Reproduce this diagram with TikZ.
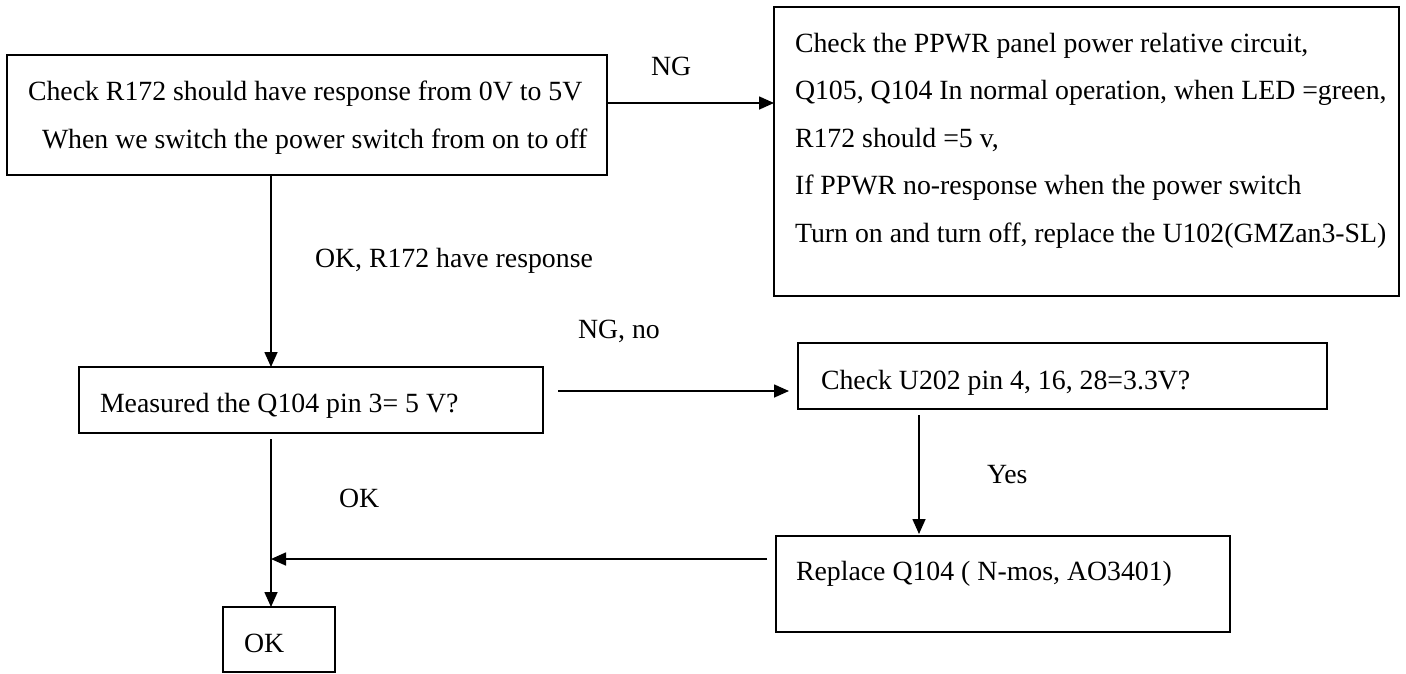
\documentclass[tikz,border=0pt]{standalone}
\usepackage{fontspec}
\setmainfont{Liberation Serif}
\usetikzlibrary{arrows.meta}
\begin{document}
\begin{tikzpicture}[x=1pt,y=-1pt,
  frame/.style={draw, line width=1.6pt, inner sep=0pt, outer sep=0pt},
  txt/.style={inner sep=0pt, outer sep=0pt, font=\fontsize{27.8}{47.5}\selectfont},
  arr/.style={line width=1.6pt, -{Triangle[length=15pt,width=13pt]}}]
\useasboundingbox (0,0) rectangle (1406,673);
% boxes
\node[frame, minimum width=600pt, minimum height=120pt] (box1) at (307,115) {};
\node[frame, minimum width=625pt, minimum height=289pt] (rbox) at (1086.5,151.5) {};
\node[frame, minimum width=464pt, minimum height=66pt] (box2) at (311,400) {};
\node[frame, minimum width=529pt, minimum height=66pt] (box3) at (1062.5,376) {};
\node[frame, minimum width=454pt, minimum height=96pt] (box4) at (1003,584) {};
\node[frame, minimum width=112pt, minimum height=65pt] (okbox) at (279,639.5) {};
% box texts
\node[txt, anchor=north west, align=left] (t1) at (28,81)
  {Check R172 should have response from 0V to 5V\\\hspace*{14pt}When we switch the power switch from on to off};
\node[txt, anchor=north west, align=left] (tr) at (795,33)
  {Check the PPWR panel power relative circuit,\\
   Q105, Q104 In normal operation, when LED =green,\\
   R172 should =5 v,\\
   If PPWR no-response when the power switch\\
   Turn on and turn off, replace the U102(GMZan3-SL)};
\node[txt, anchor=base west] (t2) at (100,412) {Measured the Q104 pin 3= 5 V?};
\node[txt, anchor=base west] (t3) at (821,389) {Check U202 pin 4, 16, 28=3.3V?};
\node[txt, anchor=base west] (t4) at (796,580) {Replace Q104 ( N-mos, AO3401)};
\node[txt, anchor=base west] (t5) at (244,652) {OK};
% connector labels
\node[txt, anchor=base west] (l1) at (651,75) {NG};
\node[txt, anchor=base west] (l2) at (315,267) {OK, R172 have response};
\node[txt, anchor=base west] (l3) at (578,338) {NG, no};
\node[txt, anchor=base west] (l4) at (987,483) {Yes};
\node[txt, anchor=base west] (l5) at (339,507) {OK};
% connectors
\coordinate (jn) at (271,559);
\draw[arr] (box1.east |- 0,103) -- (rbox.west |- 0,103);
\draw[arr] (box1.south -| 271,0) -- (box2.north -| 271,0);
\draw[arr, shorten <=15pt, shorten >=9pt] (box2.east |- 0,391) -- (box3.west |- 0,391);
\draw[arr, shorten <=6pt, shorten >=2pt] (box3.south -| 919,0) -- (box4.north -| 919,0);
\draw[arr, shorten <=9pt] (box4.west |- jn) -- (jn);
\draw[arr, shorten <=6pt] (box2.south -| 271,0) -- (okbox.north -| 271,0);
\end{tikzpicture}
\end{document}
